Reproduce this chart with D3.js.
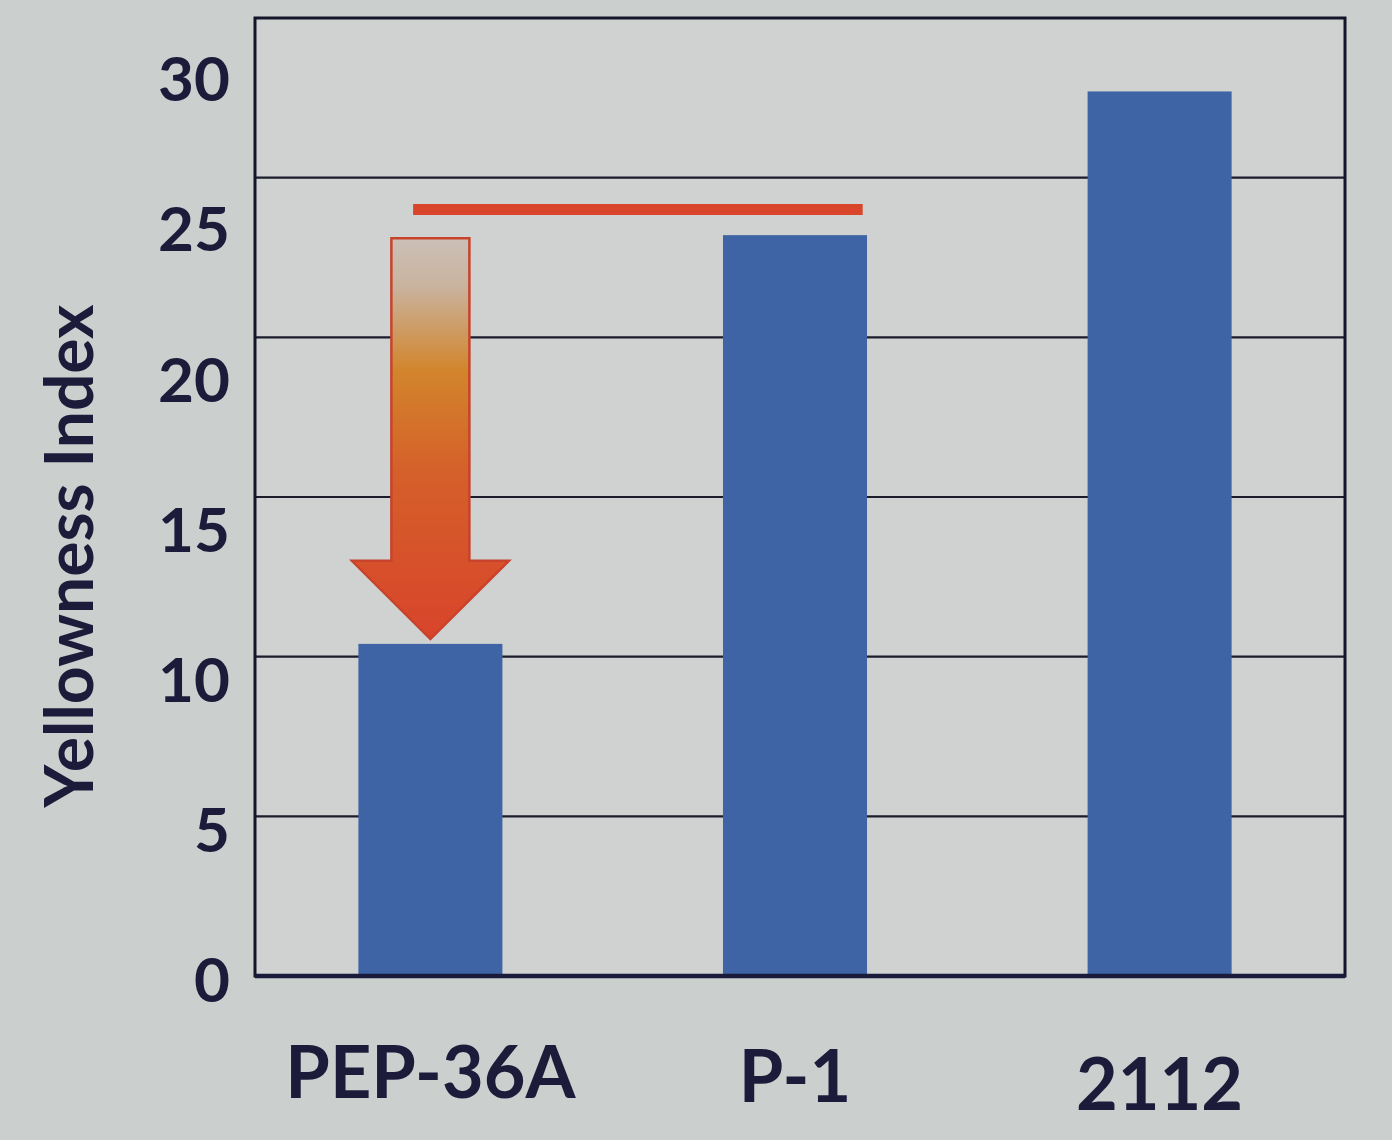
<!DOCTYPE html>
<html><head><meta charset="utf-8">
<script src="https://cdn.jsdelivr.net/npm/d3@7"></script>
<style>html,body{margin:0;padding:0;background:#cbcfce;}</style>
</head><body>
<svg id="c" width="1392" height="1140"></svg>
<script>
const categories = ["PEP-36A", "P-1", "2112"];
const values = [10.4, 23.2, 27.7];
const yTicks = [0, 5, 10, 15, 20, 25, 30];
const yTitle = "Yellowness Index";
const refLevel = 24.0;        // red horizontal reference line
const arrowFrom = 23.1, arrowTo = 10.55, arrowHeadStart = 13.0;

const svg = d3.select("#c");
const W = 1392, H = 1140;
const m = {left: 255, right: 1345, top: 18, bottom: 976};
svg.append("rect").attr("width", W).attr("height", H).attr("fill", "#cbcfce");

const x = d3.scaleBand().domain(categories).range([m.left - 6, m.right - 4]).paddingInner(0.605).paddingOuter(0.3);
const y = d3.scaleLinear().domain([0, 30]).range([m.bottom, m.top]);
// tick labels in the picture sit on a slightly different spacing
const yLab = d3.scaleLinear().domain([0, 30]).range([980, 79]);

svg.append("rect").attr("x", m.left).attr("y", m.top).attr("width", m.right - m.left).attr("height", m.bottom - m.top).attr("fill", "#cfd2d1");

// gridlines
svg.append("g").selectAll("line").data(yTicks.filter(t => t > 0 && t < 30)).join("line")
  .attr("x1", m.left).attr("x2", m.right).attr("y1", d => y(d)).attr("y2", d => y(d))
  .attr("stroke", "#1b1b2c").attr("stroke-width", 2.2);

// bars
svg.append("g").selectAll("rect").data(values).join("rect")
  .attr("x", (d, i) => x(categories[i])).attr("width", x.bandwidth())
  .attr("y", d => y(d)).attr("height", d => y(0) - y(d))
  .attr("fill", "#3f64a6");

// border
svg.append("rect").attr("x", m.left).attr("y", m.top).attr("width", m.right - m.left).attr("height", m.bottom - m.top)
  .attr("fill", "none").attr("stroke", "#15152a").attr("stroke-width", 3);
svg.append("line").attr("x1", m.left).attr("x2", m.right).attr("y1", y(0)).attr("y2", y(0))
  .attr("stroke", "#1a1a3a").attr("stroke-width", 4.5);

// red reference line
const bw = x.bandwidth();
svg.append("line")
  .attr("x1", x(categories[0]) + bw * 0.38).attr("x2", x(categories[1]) + bw * 0.97)
  .attr("y1", y(refLevel)).attr("y2", y(refLevel))
  .attr("stroke", "#d8452b").attr("stroke-width", 11);

// arrow
const defs = svg.append("defs");
const g = defs.append("linearGradient").attr("id", "ag").attr("x1", 0).attr("y1", 0).attr("x2", 0).attr("y2", 1);
g.append("stop").attr("offset", "0%").attr("stop-color", "#cbc0b8");
g.append("stop").attr("offset", "12%").attr("stop-color", "#c9b39e");
g.append("stop").attr("offset", "33%").attr("stop-color", "#d2852c");
g.append("stop").attr("offset", "58%").attr("stop-color", "#d5602a");
g.append("stop").attr("offset", "100%").attr("stop-color", "#d8442b");
const cx = x(categories[0]) + bw / 2;
const sw = 78 / 2, hw = 157 / 2;
const pts = [
  [cx - sw, y(arrowFrom)], [cx + sw, y(arrowFrom)], [cx + sw, y(arrowHeadStart)],
  [cx + hw, y(arrowHeadStart)], [cx, y(arrowTo)], [cx - hw, y(arrowHeadStart)], [cx - sw, y(arrowHeadStart)]
];
svg.append("path").attr("d", d3.line()(pts) + "Z")
  .attr("fill", "url(#ag)").attr("stroke", "#c8432c").attr("stroke-width", 2.5).attr("stroke-linejoin", "miter");

// y tick labels
svg.append("g").selectAll("text").data(yTicks).join("text")
  .attr("x", 230).attr("y", d => yLab(d)).attr("dy", "0.36em").attr("text-anchor", "end")
  .attr("font-family", "Lato, sans-serif").attr("font-weight", 700).attr("font-size", 62)
  .attr("fill", "#1c1b3a").text(d => d);

// x labels
svg.append("g").selectAll("text").data(categories).join("text")
  .attr("x", d => x(d) + bw / 2).attr("y", (d, i) => [1098, 1102, 1110][i])
  .attr("text-anchor", "middle")
  .attr("font-family", "Lato, sans-serif").attr("font-weight", 700).attr("font-size", 72)
  .attr("fill", "#1c1b3a").text(d => d);

// y title
svg.append("text").attr("transform", "translate(93,556) rotate(-90)")
  .attr("text-anchor", "middle")
  .attr("font-family", "Lato, sans-serif").attr("font-weight", 700).attr("font-size", 66)
  .attr("fill", "#1c1b3a").text(yTitle);
</script>
</body></html>
